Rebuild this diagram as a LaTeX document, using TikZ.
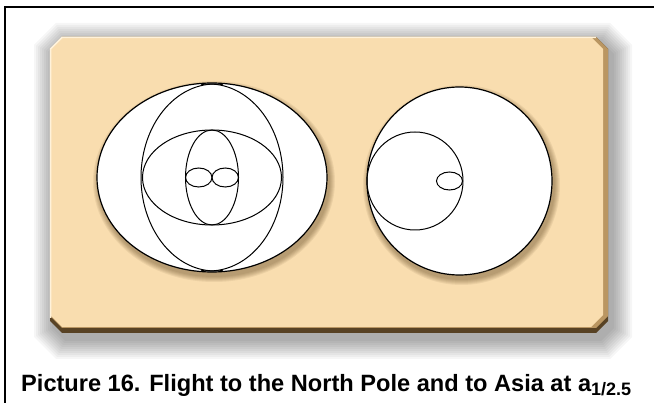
\documentclass[tikz,border=0pt]{standalone}
\usepackage{fontspec}
\newfontfamily\capfont{Liberation Sans}
\usetikzlibrary{positioning}
\definecolor{panelfill}{RGB}{249,221,175}
\definecolor{panelrim}{RGB}{186,150,98}
\definecolor{paneldark}{RGB}{88,66,36}
\definecolor{panellight}{RGB}{255,242,218}
\definecolor{discshade}{RGB}{70,45,10}
\newcommand{\chamferpath}[5]{({(#1)+(#5)},{#2}) -- ({(#3)-(#5)},{#2}) -- ({#3},{(#2)+(#5)}) -- ({#3},{(#4)-(#5)}) -- ({(#3)-(#5)},{#4}) -- ({(#1)+(#5)},{#4}) -- ({#1},{(#4)-(#5)}) -- ({#1},{(#2)+(#5)}) -- cycle}

\begin{document}
\begin{tikzpicture}[x=1pt,y=-1pt,
  orbit/.style={line width=1pt,black},
  disc/.style={fill=white,draw=black,line width=1.2pt}]
\fill[white] (0,0) rectangle (654,403);
\useasboundingbox (0,0) rectangle (654,403);
\draw[line width=1.8pt] (654,7) -- (5,7) -- (5,403);

% panel with its shadow
\foreach \r in {20,18,...,2}
  \fill[black,opacity=0.035] \chamferpath{54-\r}{43-\r}{612+\r}{339+\r}{12+0.5*\r};
\fill[paneldark] \chamferpath{50}{37}{608}{333}{12};
\fill[panelrim] \chamferpath{50}{37}{608}{328}{12};
\fill[panelfill] \chamferpath{50}{37}{603}{327}{12};
\draw[panellight,line width=1.5pt] (50.5,318) -- (50.5,49) -- (62,37.5) -- (596,37.5);

% shadows of the discs
\foreach \r in {1,...,6} {
  \fill[discshade,opacity=0.07] (214,181.5) ellipse [x radius=115pt+\r pt, y radius=94.5pt+\r pt];
  \fill[discshade,opacity=0.07] (461.5,185) ellipse [x radius=92.5pt+\r pt, y radius=94pt+\r pt];
}

% to the North Pole
\draw[disc] (212,177.5) ellipse [x radius=115pt, y radius=94.5pt];
\draw[orbit] (215,177.5) ++(84:74pt and 93.5pt) arc[start angle=84,end angle=276,x radius=74pt,y radius=93.5pt];
\draw[orbit] (209,177.5) ++(96:74pt and 93.5pt) arc[start angle=96,end angle=-96,x radius=74pt,y radius=93.5pt];
\draw[orbit] (212,177.5) ellipse [x radius=69.5pt, y radius=47.5pt];
\draw[orbit] (212,177.5) ellipse [x radius=26.5pt, y radius=47.5pt];
\draw[orbit] (198.75,177.5) ellipse [x radius=13.25pt, y radius=9.5pt];
\draw[orbit] (225.25,177.5) ellipse [x radius=13.25pt, y radius=9.5pt];

% to Asia
\draw[disc] (459.5,181) ellipse [x radius=92.5pt, y radius=94pt];
\draw[orbit] (415,181) ellipse [x radius=48pt, y radius=49pt];
\draw[orbit] (449.5,181) ellipse [x radius=13pt, y radius=9pt];

\node[anchor=base west,inner sep=0pt,font=\capfont\bfseries\fontsize{23.6}{28}\selectfont] (caption) at (21,392)
  {Picture 16. Flight to the North Pole and to Asia at a\raisebox{-4pt}{\fontsize{18}{18}\selectfont 1/2.5}};
\end{tikzpicture}
\end{document}
